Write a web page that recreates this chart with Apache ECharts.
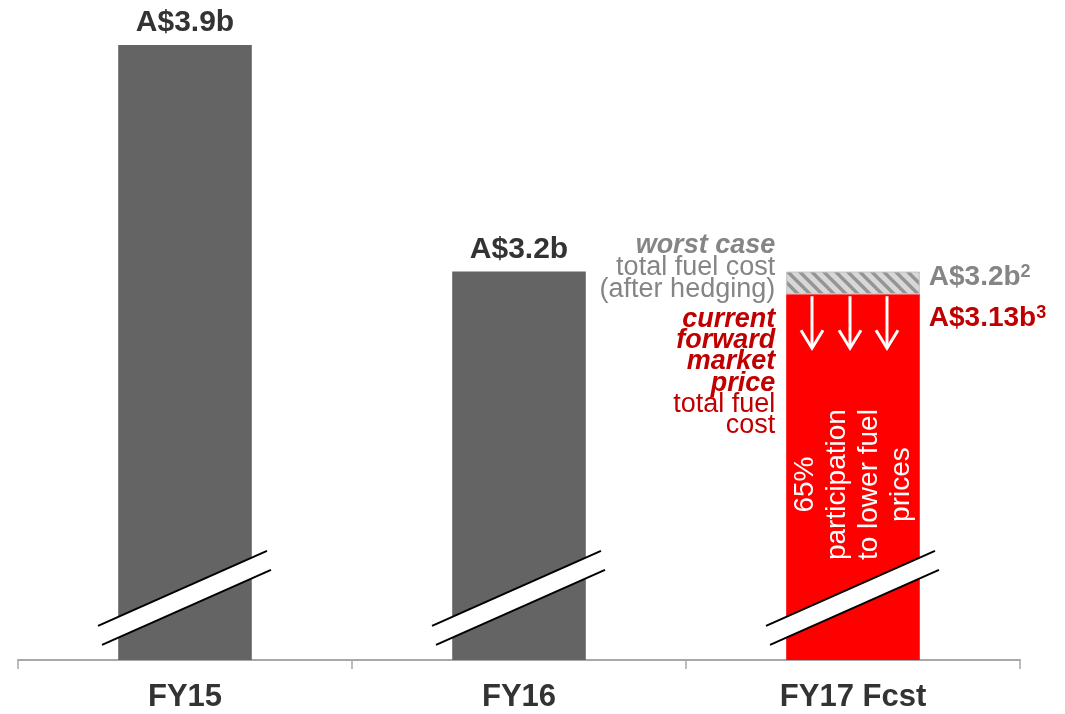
<!DOCTYPE html>
<html>
<head>
<meta charset="utf-8">
<script src="https://cdn.jsdelivr.net/npm/echarts@6/dist/echarts.min.js"></script>
<style>
  html, body { margin: 0; padding: 0; background: #ffffff; }
  #chart { width: 1065px; height: 714px; }
</style>
</head>
<body>
<div id="chart"></div>
<script>
// Total fuel cost, A$ billions
const categories = ['FY15', 'FY16', 'FY17 Fcst'];
const fuelCost = [3.9, 3.2, 3.13];           // FY17 = current forward market price
const worstCase = [null, null, 3.2];         // FY17 worst case after hedging
const topLabels = ['A$3.9b', 'A$3.2b', ''];
const worstLabel = ['A$3.2b', '2'];
const forwardLabel = ['A$3.13b', '3'];
const worstText = ['worst case', 'total fuel cost', '(after hedging)'];
const forwardText = ['current', 'forward', 'market', 'price', 'total fuel', 'cost'];
const participationText = ['65%', 'participation', 'to lower fuel', 'prices'];

// styling
const FONT = '"Liberation Sans", Arial, Helvetica, sans-serif';
const BAR_GREY = '#646464';
const BAR_RED = '#ff0000';
const TEXT_GREY = '#858585';
const TEXT_RED = '#c00000';
const AXIS_BREAK_AT = 2.195;   // where the axis-break marks sit on the value scale

// diagonal hatch for the hedging band
function hatchPattern() {
  const c = document.createElement('canvas');
  c.width = 12; c.height = 12;
  const g = c.getContext('2d');
  g.fillStyle = '#d8d8d8';
  g.fillRect(0, 0, 12, 12);
  g.strokeStyle = '#959595';
  g.lineWidth = 3.4;
  g.beginPath();
  for (let k = -12; k <= 12; k += 12) {
    g.moveTo(k - 2, -2);
    g.lineTo(k + 14, 14);
  }
  g.stroke();
  return c;
}

const hedgeBand = worstCase.map((w, i) => (w == null ? '-' : +(w - fuelCost[i]).toFixed(4)));

const chart = echarts.init(document.getElementById('chart'), null, { renderer: 'canvas' });

// axis-break marks drawn across each bar
function renderBreak(params, api) {
  const p = api.coord([api.value(0), api.value(1)]);
  const cx = p[0], cy = p[1];
  const u1 = [cx - 87, cy + 29], u2 = [cx + 82, cy - 46];
  const l1 = [cx - 83, cy + 48], l2 = [cx + 86, cy - 27];
  return {
    type: 'group',
    children: [
      { type: 'polygon', shape: { points: [u1, u2, l2, l1] }, style: { fill: '#ffffff' } },
      { type: 'line', shape: { x1: u1[0], y1: u1[1], x2: u2[0], y2: u2[1] }, style: { stroke: '#000', lineWidth: 2 } },
      { type: 'line', shape: { x1: l1[0], y1: l1[1], x2: l2[0], y2: l2[1] }, style: { stroke: '#000', lineWidth: 2 } }
    ]
  };
}

// FY17 annotations: side notes, arrows and the in-bar text
function renderFy17(params, api) {
  const top = api.coord([api.value(0), api.value(2)]);
  const redTop = api.coord([api.value(0), api.value(1)]);
  const barW = api.size([1, 0])[0] * 0.4;
  const cx = top[0];
  const left = cx - barW / 2, right = cx + barW / 2;
  const children = [];

  // arrows pointing down into the red bar
  [-41, -3, 34].forEach(dx => {
    const x = cx + dx, y0 = redTop[1] + 2, y1 = redTop[1] + 54;
    children.push({ type: 'line', shape: { x1: x, y1: y0, x2: x, y2: y1 }, style: { stroke: '#fff', lineWidth: 3 } });
    children.push({ type: 'polyline', shape: { points: [[x - 11, y1 - 18], [x, y1], [x + 11, y1 - 18]] },
      style: { stroke: '#fff', lineWidth: 3, fill: null } });
  });

  // rotated in-bar text
  children.push({
    type: 'text', x: cx, y: top[1] + 213, rotation: Math.PI / 2,
    style: { text: participationText.join('\n'), fill: '#fff', font: '28px ' + FONT,
      align: 'center', verticalAlign: 'middle', lineHeight: 32 }
  });

  // left notes
  const tx = left - 11;
  worstText.forEach((t, i) => {
    children.push({ type: 'text', x: tx, y: top[1] - 26 + i * 22,
      style: { text: t, fill: TEXT_GREY, align: 'right', verticalAlign: 'middle',
        font: (i === 0 ? 'italic bold ' : '') + '27px ' + FONT } });
  });
  forwardText.forEach((t, i) => {
    children.push({ type: 'text', x: tx, y: top[1] + 48 + i * 21.2,
      style: { text: t, fill: TEXT_RED, align: 'right', verticalAlign: 'middle',
        font: (i < 4 ? 'italic bold ' : '') + '27px ' + FONT } });
  });

  // right value labels with note markers
  const rich = color => ({
    m: { fontSize: 28, fontWeight: 'bold', fill: color, fontFamily: FONT, lineHeight: 30 },
    s: { fontSize: 18, fontWeight: 'bold', fill: color, fontFamily: FONT, verticalAlign: 'top', lineHeight: 30 }
  });
  children.push({ type: 'text', x: right + 9, y: top[1] + 6,
    style: { text: '{m|' + worstLabel[0] + '}{s|' + worstLabel[1] + '}', rich: rich(TEXT_GREY),
      fill: TEXT_GREY, align: 'left', verticalAlign: 'middle' } });
  children.push({ type: 'text', x: right + 9, y: top[1] + 47,
    style: { text: '{m|' + forwardLabel[0] + '}{s|' + forwardLabel[1] + '}', rich: rich(TEXT_RED),
      fill: TEXT_RED, align: 'left', verticalAlign: 'middle' } });

  return { type: 'group', children };
}

chart.setOption({
  animation: false,
  backgroundColor: '#ffffff',
  textStyle: { fontFamily: FONT },
  grid: { left: 18, right: 45, top: 45, bottom: 54, containLabel: false, outerBoundsMode: 'none' },
  xAxis: {
    type: 'category',
    data: categories,
    axisLine: { lineStyle: { color: '#a8a8a8', width: 2 } },
    axisTick: { show: true, length: 9, lineStyle: { color: '#a8a8a8', width: 1.5 } },
    axisLabel: { fontSize: 31, fontWeight: 'bold', color: '#333333', margin: 22, fontFamily: FONT }
  },
  yAxis: { type: 'value', min: 2.0, max: 3.9, show: false, splitLine: { show: false } },
  series: [
    {
      type: 'bar',
      stack: 'cost',
      barWidth: '40%',
      data: fuelCost.map((v, i) => ({
        value: v,
        itemStyle: { color: i === 2 ? BAR_RED : BAR_GREY },
        label: { show: !!topLabels[i], formatter: topLabels[i] }
      })),
      label: { position: 'top', distance: 7, fontSize: 30, fontWeight: 'bold', color: '#333333', fontFamily: FONT }
    },
    {
      type: 'bar',
      stack: 'cost',
      barWidth: '40%',
      data: hedgeBand,
      itemStyle: { color: { image: hatchPattern(), repeat: 'repeat' }, borderColor: '#c4c4c4', borderWidth: 1 }
    },
    {
      type: 'custom',
      renderItem: renderBreak,
      data: categories.map((c, i) => [i, AXIS_BREAK_AT]),
      z: 5,
      silent: true
    },
    {
      type: 'custom',
      renderItem: renderFy17,
      data: [[2, fuelCost[2], worstCase[2]]],
      z: 6,
      clip: false,
      silent: true
    }
  ]
});
</script>
</body>
</html>
